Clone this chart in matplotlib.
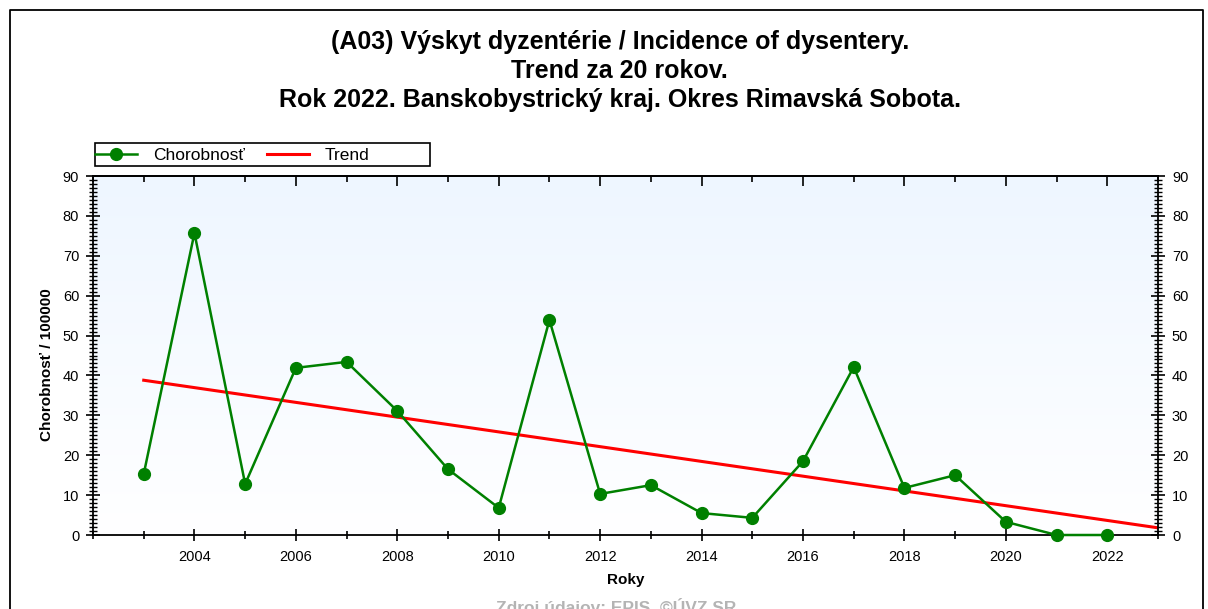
import matplotlib.pyplot as plt
import numpy as np
from matplotlib.lines import Line2D
from matplotlib.patches import Rectangle
from matplotlib.colors import LinearSegmentedColormap
from matplotlib.ticker import MultipleLocator, FixedLocator

# data
years = [2003, 2004, 2005, 2006, 2007, 2008, 2009, 2010, 2011, 2012,
         2013, 2014, 2015, 2016, 2017, 2018, 2019, 2020, 2021, 2022]
chorobnost = [15.3, 75.7, 12.8, 41.9, 43.4, 31.1, 16.5, 6.8, 53.9, 10.3,
              12.5, 5.5, 4.3, 18.5, 42.1, 11.8, 15.0, 3.3, 0.0, 0.0]
trend_years = [2003, 2023]
trend_vals = [38.8, 1.8]
year_labels = [2004, 2006, 2008, 2010, 2012, 2014, 2016, 2018, 2020, 2022]

title = ("(A03) Výskyt dyzentérie / Incidence of dysentery.\n"
         "Trend za 20 rokov.\n"
         "Rok 2022. Banskobystrický kraj. Okres Rimavská Sobota.")

plt.rcParams['font.family'] = ['Liberation Sans', 'DejaVu Sans']


def main():
    fig = plt.figure(figsize=(12.08, 6.09), dpi=100)
    ax = fig.add_axes([0.077, 0.1215, 0.8816, 0.5895])

    # light blue -> white background gradient
    cmap = LinearSegmentedColormap.from_list('bg', ['#ffffff', '#eef6ff'])
    grad = np.linspace(0, 1, 256).reshape(-1, 1)
    ax.imshow(grad, cmap=cmap, aspect='auto', origin='lower',
              extent=[2002, 2023, 0, 90], zorder=0)

    ax.plot(trend_years, trend_vals, color='#ff0000', lw=2.2, zorder=2)
    ax.plot(years, chorobnost, color='#008000', lw=1.8, marker='o',
            markersize=8.5, zorder=3, clip_on=False)

    ax.set_xlim(2002, 2023)
    ax.set_ylim(0, 90)

    ax.xaxis.set_major_locator(FixedLocator(year_labels))
    ax.xaxis.set_minor_locator(MultipleLocator(1))
    ax.yaxis.set_major_locator(MultipleLocator(10))
    ax.yaxis.set_minor_locator(MultipleLocator(1))
    ax.tick_params(axis='x', which='major', direction='inout', length=9,
                   width=1.2, labelsize=10.5, pad=6)
    ax.tick_params(axis='x', which='minor', direction='inout', length=6,
                   width=1.2)
    ax.tick_params(axis='y', which='major', direction='inout', length=10,
                   width=1.2, labelsize=10.5, right=True, labelright=True,
                   pad=5)
    ax.tick_params(axis='y', which='minor', direction='inout', length=6,
                   width=1.0, right=True)
    for sp in ax.spines.values():
        sp.set_linewidth(1.3)

    # top axis: ticks pointing inward only
    top = ax.secondary_xaxis('top')
    top.xaxis.set_major_locator(FixedLocator(year_labels))
    top.xaxis.set_minor_locator(MultipleLocator(1))
    top.tick_params(which='major', direction='in', length=7, width=1.2,
                    labeltop=False)
    top.tick_params(which='minor', direction='in', length=4, width=1.2)
    top.spines['top'].set_linewidth(1.3)

    ax.set_xlabel('Roky', fontsize=11, fontweight='bold', labelpad=7)
    ax.set_ylabel('Chorobnosť / 100000', fontsize=11, fontweight='bold')
    ax.yaxis.set_label_coords(-0.037, 0.474)

    fig.suptitle(title, x=0.513, y=0.95, fontsize=18, fontweight='bold',
                 linespacing=1.24)

    handles = [Line2D([], [], color='#008000', lw=1.8, marker='o',
                      markersize=8.5),
               Line2D([], [], color='#ff0000', lw=2.2)]
    fig.legend(handles, ['Chorobnosť', 'Trend'], ncol=2,
               loc='center left', bbox_to_anchor=(0.079, 0.745),
               frameon=False, fontsize=12.5, borderpad=0,
               handlelength=2.4, handletextpad=0.9, columnspacing=1.3,
               borderaxespad=0)
    fig.add_artist(Rectangle((0.0786, 0.7274), 0.277, 0.0378,
                             transform=fig.transFigure, fill=False,
                             edgecolor='black', lw=1.2))

    # outer frame of the chart
    fig.add_artist(Line2D([0.0083, 0.0083, 0.9959, 0.9959],
                          [0.0, 0.9836, 0.9836, 0.0],
                          transform=fig.transFigure, color='black', lw=1.3))

    fig.text(0.51, -0.012, 'Zdroj údajov: EPIS, ©ÚVZ SR', ha='center',
             va='bottom', fontsize=12.5, fontweight='bold', color='#b4b4b4')

    fig.savefig('out.png', dpi=100)


if __name__ == "__main__":
    main()
